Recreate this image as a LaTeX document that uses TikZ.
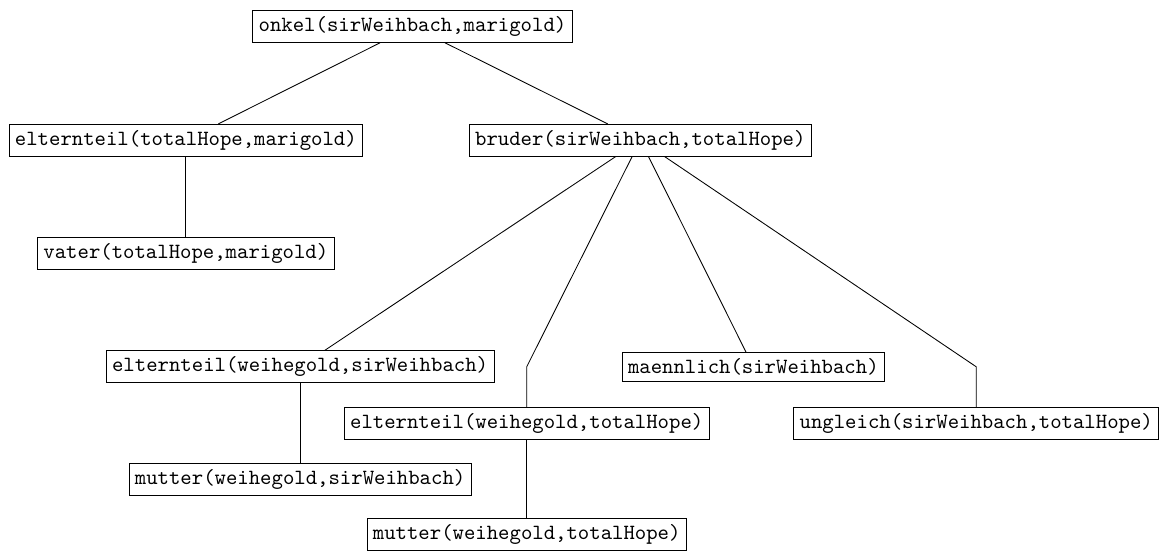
\documentclass[tikz,border=0pt]{standalone}
\usepackage{amsmath}
\usepackage{tikz}

\tikzset{term/.style={draw, font=\ttfamily, inner sep=2.7pt}}

\begin{document}
\begin{tikzpicture}
\useasboundingbox (0,0) rectangle (18.77,-8.94);
\node[term] (onkel) at (6.68,-0.43) {onkel(sirWeihbach,marigold)};
\node[term] (elternA) at (3.01,-2.27) {elternteil(totalHope,marigold)};
\node[term] (vater) at (3.01,-4.10) {vater(totalHope,marigold)};
\node[term] (bruder) at (10.37,-2.27) {bruder(sirWeihbach,totalHope)};
\node[term] (elternB) at (4.86,-5.94) {elternteil(weihegold,sirWeihbach)};
\node[term] (maennlich) at (12.20,-5.94) {maennlich(sirWeihbach)};
\node[term] (elternC) at (8.53,-6.86) {elternteil(weihegold,totalHope)};
\node[term] (ungleich) at (15.81,-6.86) {ungleich(sirWeihbach,totalHope)};
\node[term] (mutterB) at (4.86,-7.77) {mutter(weihegold,sirWeihbach)};
\node[term] (mutterC) at (8.53,-8.66) {mutter(weihegold,totalHope)};
\coordinate (knickC) at (8.53,-5.94);
\coordinate (knickU) at (15.81,-5.94);
\draw (onkel)--(elternA);
\draw (onkel)--(bruder);
\draw (elternA)--(vater);
\draw (bruder)--(elternB);
\draw (bruder)--(knickC)--(elternC);
\draw (bruder)--(maennlich);
\draw (bruder)--(knickU)--(ungleich);
\draw (elternB)--(mutterB);
\draw (elternC)--(mutterC);
\end{tikzpicture}
\end{document}
